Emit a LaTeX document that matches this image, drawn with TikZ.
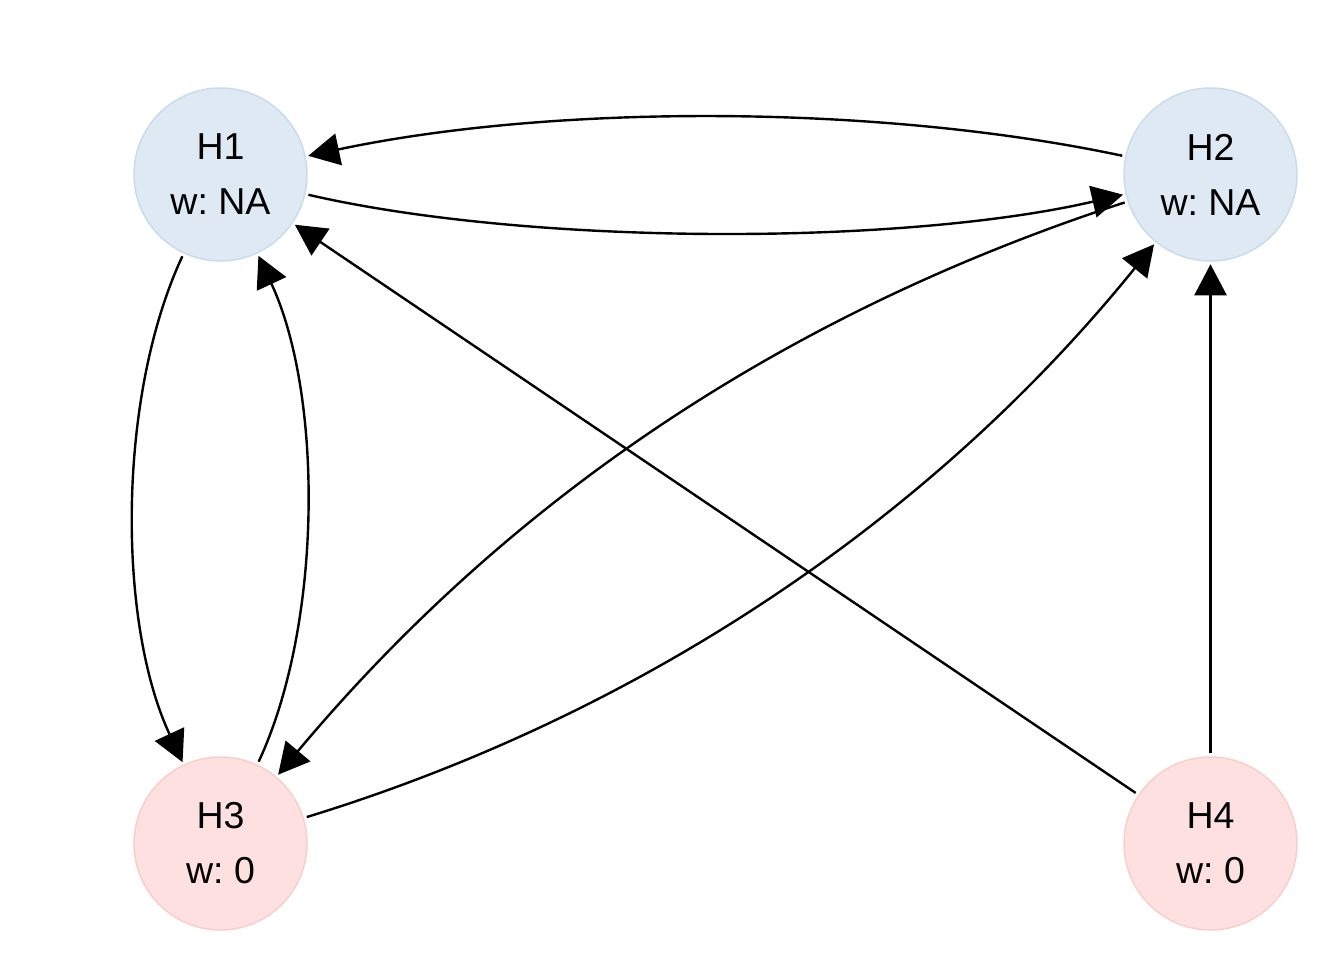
\documentclass[tikz,border=0pt]{standalone}
\usepackage{fontspec}
\setmainfont{Liberation Sans}
\usetikzlibrary{arrows.meta}
\definecolor{bluefill}{HTML}{DFE9F3}
\definecolor{blueline}{HTML}{C9DCEC}
\definecolor{pinkfill}{HTML}{FDE0DF}
\definecolor{pinkline}{HTML}{F8CFCC}
\begin{document}
\begin{tikzpicture}[x=1pt,y=-1pt,
  hnode/.style={circle, minimum size=173pt, inner sep=0pt, line width=1.5pt, align=center,
    font=\fontsize{37.5}{55}\selectfont\frenchspacing},
  bluenode/.style={hnode, draw=blueline, fill=bluefill},
  pinknode/.style={hnode, draw=pinkline, fill=pinkfill},
  edge/.style={line width=2.4pt, -{Triangle[length=31pt,width=32pt]}, shorten >=2.5pt, shorten <=3pt}
]
\useasboundingbox (0,0) rectangle (1344,960);
\node[bluenode] (H1) at (220.5,174.5) {H1\\w: NA};
\node[bluenode] (H2) at (1210.5,174.5) {H2\\w: NA};
\node[pinknode] (H3) at (220.5,843.5) {H3\\w: 0};
\node[pinknode] (H4) at (1210.5,843.5) {H4\\w: 0};
\draw[edge] (H2) to[bend right=12, looseness=0.79] (H1);
\draw[edge] (H1) to[bend right=13, looseness=0.72] (H2);
\draw[edge] (H1) to[bend right=25, looseness=0.79] (H3);
\draw[edge] (H3) to[bend right=25, looseness=0.78] (H1);
\draw[edge] (H4) -- (H1);
\draw[edge] (H2) to[bend right=16, looseness=0.9] (H3);
\draw[edge] (H3) to[bend right=17, looseness=0.88] (H2);
\draw[edge] (H4) -- (H2);
\end{tikzpicture}
\end{document}
